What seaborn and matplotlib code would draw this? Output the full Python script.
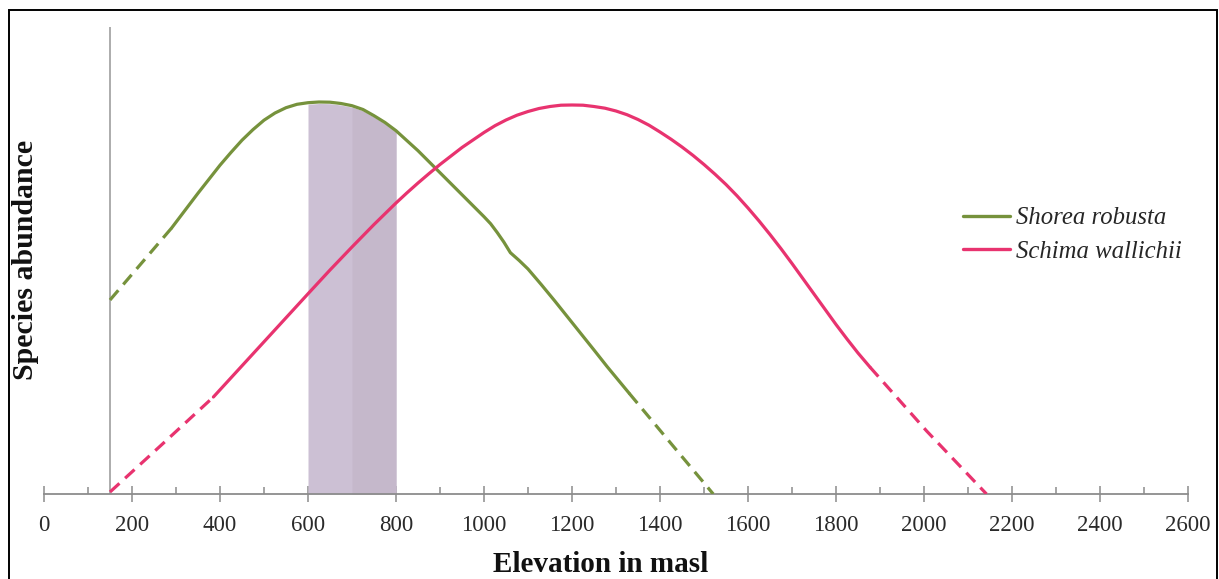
import numpy as np
import pandas as pd
import matplotlib
matplotlib.use("Agg")
import matplotlib.pyplot as plt
from matplotlib.lines import Line2D
from matplotlib.patches import Rectangle
import seaborn as sns

# Response curves of two tree species along the elevation gradient (masl)
shorea_elev = [150, 220, 290, 300, 350, 400, 425, 450, 475, 500, 525, 550, 575, 600,
               625, 650, 675, 700, 725, 750, 775, 800, 850, 900, 950, 1000, 1015,
               1030, 1045, 1060, 1080, 1100, 1130, 1160, 1190, 1220, 1250, 1280, 1305,
               1330, 1425, 1521]
shorea_abund = [194, 230, 266, 271.8, 300.8, 328.8, 341.6, 353.8, 364.4, 373.8, 381,
                386.3, 389.7, 391.3, 392.0, 391.8, 390.5, 388.3, 384.5, 378.3, 371.5,
                363.3, 343.3, 321.3, 299.3, 277.3, 270.3, 261.5, 252, 241.3, 233.5,
                225, 209.5, 193.5, 177, 160.5, 144, 127.3, 114, 100.7, 50.5, 0]

schima_elev = [150, 268, 385, 400, 450, 500, 550, 600, 650, 700, 750, 800, 825, 850,
               875, 900, 950, 1000, 1025, 1050, 1075, 1100, 1125, 1150, 1175, 1200,
               1225, 1250, 1275, 1300, 1325, 1350, 1375, 1400, 1425, 1450, 1475, 1500,
               1525, 1550, 1575, 1600, 1625, 1650, 1675, 1700, 1750, 1800, 1825, 1850,
               1877, 2006, 2142]
schima_abund = [2, 49.5, 97, 104.2, 128.2, 152.2, 176.2, 200.2, 224, 247, 269.5, 291,
                301.2, 311, 320.4, 329.5, 346.5, 361.5, 368.3, 374, 378.8, 382.5, 385.5,
                387.5, 388.8, 389, 388.8, 387.5, 385.8, 383, 379.3, 374.5, 368.8, 362,
                354.8, 347, 338.6, 329.5, 319.8, 309.5, 298.2, 286, 273.1, 259.5, 245.3,
                230.5, 200, 169.5, 155, 141, 127, 63, 0]

# Elevation range actually sampled for each species (outside: extrapolated)
shorea_observed = (290, 1330)
schima_observed = (385, 1877)

species_names = ["Shorea robusta", "Schima wallichii"]
species_colors = ["#76923c", "#e8336f"]

# Optimum overlap zone, shaded under the Shorea curve
overlap_zone = (600, 800)
x_ticks = list(range(0, 2601, 200))
reference_elev = 150


def split_segments(name, elev, abund, observed):
    lo, hi = observed
    elev = np.asarray(elev)
    abund = np.asarray(abund)
    parts = [
        ("extrapolated", elev <= lo, "low"),
        ("observed", (elev >= lo) & (elev <= hi), "mid"),
        ("extrapolated", elev >= hi, "high"),
    ]
    frames = []
    for kind, mask, tag in parts:
        frames.append(pd.DataFrame({
            "elevation": elev[mask],
            "abundance": abund[mask],
            "species": name,
            "kind": kind,
            "segment": f"{name}-{tag}",
        }))
    return pd.concat(frames, ignore_index=True)


df = pd.concat([
    split_segments(species_names[0], shorea_elev, shorea_abund, shorea_observed),
    split_segments(species_names[1], schima_elev, schima_abund, schima_observed),
], ignore_index=True)

sns.set_theme(style="white")
plt.rcParams["font.family"] = ["Liberation Serif", "DejaVu Serif"]

W, H = 1219, 579
fig = plt.figure(figsize=(W / 100, H / 100), dpi=100)
fig.patch.set_facecolor("white")
ax = fig.add_axes([44 / W, 1 - 494 / H, 1144 / W, 467 / H])

# shaded overlap zone under the Shorea curve (slightly darker upper half)
zone_x = np.linspace(overlap_zone[0], overlap_zone[1], 81)
zone_top = np.interp(zone_x, shorea_elev, shorea_abund) - 1.5
ax.fill_between(zone_x, 0, zone_top, color="#ccc0d4", lw=0, zorder=1)
upper = zone_x >= 700
ax.fill_between(zone_x[upper], 0, zone_top[upper], color="#c5b8cb", lw=0, zorder=1)

ax.axvline(reference_elev, color="#a6a6a6", lw=1.3, zorder=1)

palette = dict(zip(species_names, species_colors))
sns.lineplot(data=df, x="elevation", y="abundance", hue="species",
             style="kind", units="segment", estimator=None, sort=False,
             palette=palette,
             dashes={"observed": "", "extrapolated": (4.0, 2.4)},
             linewidth=2.3, legend=False, ax=ax, zorder=3)

ax.set_xlim(0, 2600)
ax.set_ylim(0, 467)
ax.set_xticks(x_ticks)
ax.set_xticks(list(range(100, 2600, 200)), minor=True)
ax.set_yticks([])
ax.tick_params(axis="x", which="major", direction="inout", length=12, width=1.1,
               color="#8c8c8c", labelsize=16.5, labelcolor="#2a2a2a", pad=9, bottom=True)
ax.tick_params(axis="x", which="minor", direction="in", length=5, width=1.1,
               color="#8c8c8c", bottom=True)
for side in ["left", "top", "right"]:
    ax.spines[side].set_visible(False)
ax.spines["bottom"].set_color("#8c8c8c")
ax.spines["bottom"].set_linewidth(1.3)
ax.set_xlabel("")
ax.set_ylabel("")
ax.patch.set_alpha(0)

fig.text(601 / W, 1 - 564 / H, "Elevation in masl", ha="center", va="center",
         fontsize=21, fontweight="bold", color="#111111")
fig.text(26 / W, 1 - 260 / H, "Species abundance", ha="center", va="center",
         rotation=90, fontsize=21.5, fontweight="bold", color="#111111")

handles = [Line2D([0], [0], color=c, lw=2.4) for c in species_colors]
leg = ax.legend(handles, species_names, loc="upper left",
                bbox_to_anchor=(953 / W, 1 - 197 / H), bbox_transform=fig.transFigure,
                frameon=False, handlelength=1.9, handletextpad=0.25,
                labelspacing=0.45, borderaxespad=0,
                prop={"family": "Liberation Serif", "style": "italic", "size": 17.8})

# thin frame around the whole figure
fig.add_artist(Rectangle((9 / W, -0.05), (1217 - 9) / W, 1.05 - 10 / H,
                         transform=fig.transFigure, fill=False,
                         edgecolor="black", lw=1.4))

fig.savefig("out.png", dpi=100)
